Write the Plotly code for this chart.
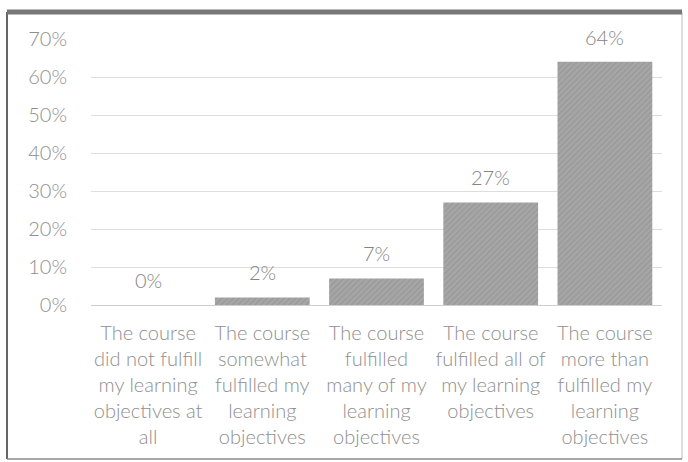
import plotly.graph_objects as go

categories = [
    "The course<br>did not fulfill<br>my learning<br>objectives at<br>all",
    "The course<br>somewhat<br>fulfilled my<br>learning<br>objectives",
    "The course<br>fulfilled<br>many of my<br>learning<br>objectives",
    "The course<br>fulfilled all of<br>my learning<br>objectives",
    "The course<br>more than<br>fulfilled my<br>learning<br>objectives",
]
values = [0.0, 0.02, 0.07, 0.27, 0.64]
labels = ["0%", "2%", "7%", "27%", "64%"]
y_ticks = [0, 0.1, 0.2, 0.3, 0.4, 0.5, 0.6, 0.7]

W, H = 688, 462
L, R, T, B = 91, 26, 39, 157
pw, ph = W - L - R, H - T - B

def px(x):
    return (x - L) / pw

def py(y):
    return (H - B - y) / ph

font_family = "Lato, 'Open Sans', sans-serif"
grey = "#8f8f8f"

fig = go.Figure()
fig.add_trace(go.Bar(
    x=categories, y=values,
    marker=dict(color="#9c9c9c", line=dict(width=0),
                pattern=dict(shape="/", fgcolor="#888888", bgcolor="#a6a6a6", size=4, solidity=0.3)),
    hoverinfo="skip",
))

for c, v, t in zip(categories, values, labels):
    fig.add_annotation(x=c, y=v, text=t, showarrow=False, yanchor="bottom",
                       yshift=11, font=dict(size=20, color="#858585", family=font_family, weight=300))

# frame of the scanned chart
fig.add_shape(type="line", xref="paper", yref="paper",
              x0=px(7), x1=px(7), y0=py(459), y1=py(12),
              line=dict(color="#666666", width=2))
fig.add_shape(type="line", xref="paper", yref="paper",
              x0=px(682), x1=px(682), y0=py(459), y1=py(12),
              line=dict(color="#bdbdbd", width=1))
fig.add_shape(type="line", xref="paper", yref="paper",
              x0=px(7), x1=px(682), y0=py(459), y1=py(459),
              line=dict(color="#8a8a8a", width=1.5))
fig.add_shape(type="line", xref="paper", yref="paper",
              x0=px(7), x1=px(682), y0=py(12), y1=py(12),
              line=dict(color="#777777", width=5))

fig.update_layout(
    width=W, height=H,
    margin=dict(l=L, r=R, t=T, b=B, pad=0),
    paper_bgcolor="white", plot_bgcolor="white",
    bargap=0.17,
    showlegend=False,
    font=dict(family=font_family, color=grey),
    xaxis=dict(showgrid=False, showline=False, ticks="", tickangle=0,
               tickfont=dict(size=20, color=grey, family=font_family, weight=300),
               ticklabelstandoff=14),
    yaxis=dict(range=[0, 0.7], tickvals=y_ticks, tickformat=".0%",
               showgrid=True, gridcolor="#dedede", gridwidth=1,
               zeroline=True, zerolinecolor="#cfcfcf", zerolinewidth=1,
               showline=False, ticks="",
               tickfont=dict(size=20, color=grey, family=font_family, weight=300),
               ticklabelstandoff=23),
)

fig.write_html("out.html", config={"displayModeBar": False},
               post_script="document.body.style.margin='0';document.body.style.overflow='hidden';")
